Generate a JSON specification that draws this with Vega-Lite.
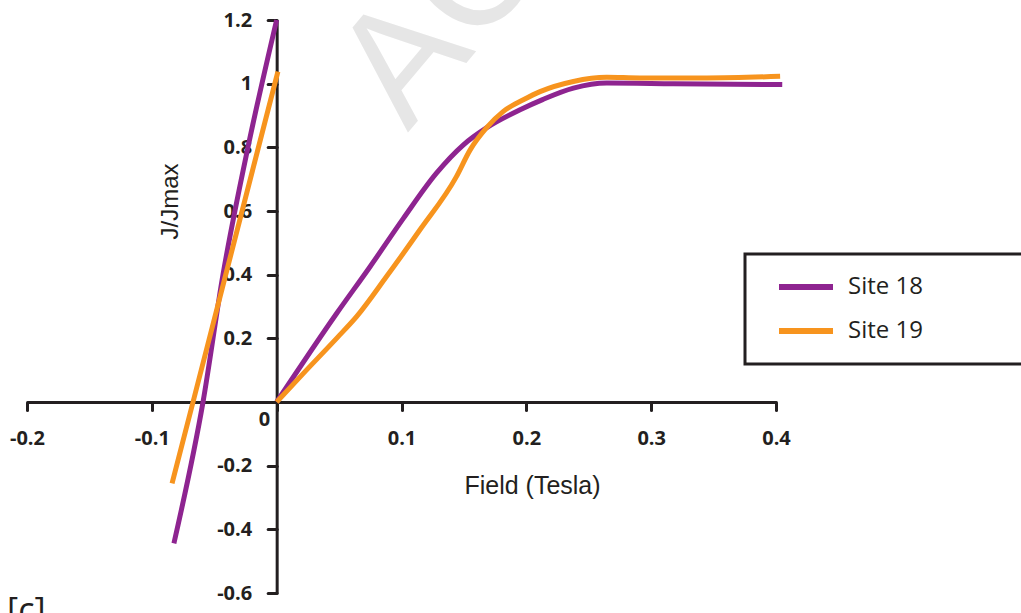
{
  "$schema": "https://vega.github.io/schema/vega-lite/v6.json",
  "autosize": {"type": "none"},
  "width": 749,
  "height": 573,
  "padding": {"left": 27, "top": 20, "right": 245, "bottom": 20},
  "background": "white",
  "config": {
    "view": {"stroke": null},
    "axis": {
      "grid": false,
      "domainColor": "#231f20",
      "domainWidth": 3,
      "tickColor": "#231f20",
      "tickWidth": 3,
      "tickCap": "round",
      "labelFont": "Open Sans",
      "labelFontWeight": "bold",
      "labelFontSize": 20,
      "labelColor": "#231f20",
      "labelOverlap": false,
      "labelFlush": false,
      "titleFont": "Liberation Sans",
      "titleFontWeight": "normal",
      "titleFontSize": 24,
      "titleColor": "#231f20"
    }
  },
  "datasets": {
    "curves": [
      {"site": "Site 18", "seg": "a", "field": -0.0823, "j": -0.444},
      {"site": "Site 18", "seg": "a", "field": -0.059, "j": 0.0},
      {"site": "Site 18", "seg": "a", "field": -0.043, "j": 0.4},
      {"site": "Site 18", "seg": "a", "field": -0.023, "j": 0.8},
      {"site": "Site 18", "seg": "a", "field": 0.0, "j": 1.2},
      {"site": "Site 18", "seg": "b", "field": 0.0, "j": 0.0},
      {"site": "Site 18", "seg": "b", "field": 0.048, "j": 0.278},
      {"site": "Site 18", "seg": "b", "field": 0.0748, "j": 0.425},
      {"site": "Site 18", "seg": "b", "field": 0.1015, "j": 0.577},
      {"site": "Site 18", "seg": "b", "field": 0.128, "j": 0.719},
      {"site": "Site 18", "seg": "b", "field": 0.1496, "j": 0.808},
      {"site": "Site 18", "seg": "b", "field": 0.168, "j": 0.861},
      {"site": "Site 18", "seg": "b", "field": 0.195, "j": 0.918},
      {"site": "Site 18", "seg": "b", "field": 0.213, "j": 0.95},
      {"site": "Site 18", "seg": "b", "field": 0.2377, "j": 0.986},
      {"site": "Site 18", "seg": "b", "field": 0.2644, "j": 1.002},
      {"site": "Site 18", "seg": "b", "field": 0.318, "j": 1.0},
      {"site": "Site 18", "seg": "b", "field": 0.405, "j": 0.997},
      {"site": "Site 19", "seg": "a", "field": -0.0838, "j": -0.256},
      {"site": "Site 19", "seg": "a", "field": -0.067, "j": 0.0},
      {"site": "Site 19", "seg": "a", "field": 0.001, "j": 1.038},
      {"site": "Site 19", "seg": "b", "field": 0.0, "j": 0.0},
      {"site": "Site 19", "seg": "b", "field": 0.0214, "j": 0.09},
      {"site": "Site 19", "seg": "b", "field": 0.048, "j": 0.2},
      {"site": "Site 19", "seg": "b", "field": 0.064, "j": 0.268},
      {"site": "Site 19", "seg": "b", "field": 0.088, "j": 0.394},
      {"site": "Site 19", "seg": "b", "field": 0.1148, "j": 0.541},
      {"site": "Site 19", "seg": "b", "field": 0.144, "j": 0.708},
      {"site": "Site 19", "seg": "b", "field": 0.155, "j": 0.792},
      {"site": "Site 19", "seg": "b", "field": 0.168, "j": 0.861},
      {"site": "Site 19", "seg": "b", "field": 0.1816, "j": 0.913},
      {"site": "Site 19", "seg": "b", "field": 0.198, "j": 0.95},
      {"site": "Site 19", "seg": "b", "field": 0.211, "j": 0.975},
      {"site": "Site 19", "seg": "b", "field": 0.2377, "j": 1.007},
      {"site": "Site 19", "seg": "b", "field": 0.2644, "j": 1.02},
      {"site": "Site 19", "seg": "b", "field": 0.291, "j": 1.018},
      {"site": "Site 19", "seg": "b", "field": 0.3446, "j": 1.018},
      {"site": "Site 19", "seg": "b", "field": 0.4033, "j": 1.023}
    ]
  },
  "layer": [
    {
      "data": {"values": [{"t": "ACCEPTED MANUSCRIPT"}]},
      "mark": {"type": "text", "font": "Liberation Sans", "fontSize": 160, "color": "#e6e6e6", "angle": -50, "align": "left", "baseline": "alphabetic"},
      "encoding": {
        "x": {"datum": 0.105, "type": "quantitative"},
        "y": {"datum": 0.846, "type": "quantitative"},
        "text": {"field": "t", "type": "nominal"}
      }
    },
    {
      "data": {"name": "curves"},
      "mark": {"type": "line", "strokeWidth": 5, "interpolate": "monotone"},
      "encoding": {
        "x": {
          "field": "field",
          "type": "quantitative",
          "title": "Field (Tesla)",
          "scale": {"domain": [-0.2, 0.4], "nice": false, "zero": false},
          "axis": {
            "values": [-0.2, -0.1, 0, 0.1, 0.2, 0.3, 0.4],
            "offset": -191,
            "tickSize": 8,
            "labelPadding": 18,
            "labelBaseline": "top",
            "labelExpr": "datum.value === 0 ? '' : toString(round(datum.value*10)/10)",
            "titleFontSize": 25,
            "titleX": 505,
            "titleY": 83,
            "titleAlign": "center",
            "titleBaseline": "middle"
          }
        },
        "y": {
          "field": "j",
          "type": "quantitative",
          "title": "J/Jmax",
          "scale": {"domain": [-0.6, 1.2], "nice": false, "zero": false},
          "axis": {
            "values": [-0.6, -0.4, -0.2, 0, 0.2, 0.4, 0.6, 0.8, 1, 1.2],
            "offset": -249.67,
            "tickSize": 9,
            "labelPadding": {"condition": {"test": "datum.value === 0", "value": -2}, "value": 16},
            "labelOffset": {"condition": {"test": "datum.value === 0", "value": 17}, "value": 0},
            "labelExpr": "toString(round(datum.value*10)/10)",
            "titleX": -106,
            "titleY": 181,
            "titleAngle": -90,
            "titleAlign": "center",
            "titleBaseline": "middle"
          }
        },
        "color": {
          "field": "site",
          "type": "nominal",
          "scale": {"domain": ["Site 18", "Site 19"], "range": ["#8E2490", "#F7941E"]},
          "legend": {
            "orient": "none",
            "legendX": 718,
            "legendY": 234,
            "title": null,
            "strokeColor": "#231f20",
            "padding": 21,
            "clipHeight": 24,
            "symbolType": "stroke",
            "symbolSize": 2916,
            "symbolStrokeWidth": 6,
            "symbolOffset": 10,
            "labelFont": "Open Sans",
            "labelFontSize": 24,
            "labelColor": "#231f20",
            "labelOffset": 12,
            "labelLimit": 1000,
            "rowPadding": 20,
            "labelExpr": "datum.label + '                              \u200b'",
            "encode": {
              "legend": {"update": {"strokeWidth": {"value": 3}}}
            }
          }
        },
        "detail": {"field": "seg"}
      }
    },
    {
      "data": {"values": [{"t": "[c]"}]},
      "mark": {"type": "text", "font": "Open Sans", "fontSize": 34, "color": "#231f20", "align": "left", "baseline": "alphabetic"},
      "encoding": {
        "x": {"datum": -0.216, "type": "quantitative"},
        "y": {"datum": -0.69, "type": "quantitative"},
        "text": {"field": "t", "type": "nominal"}
      }
    }
  ]
}
